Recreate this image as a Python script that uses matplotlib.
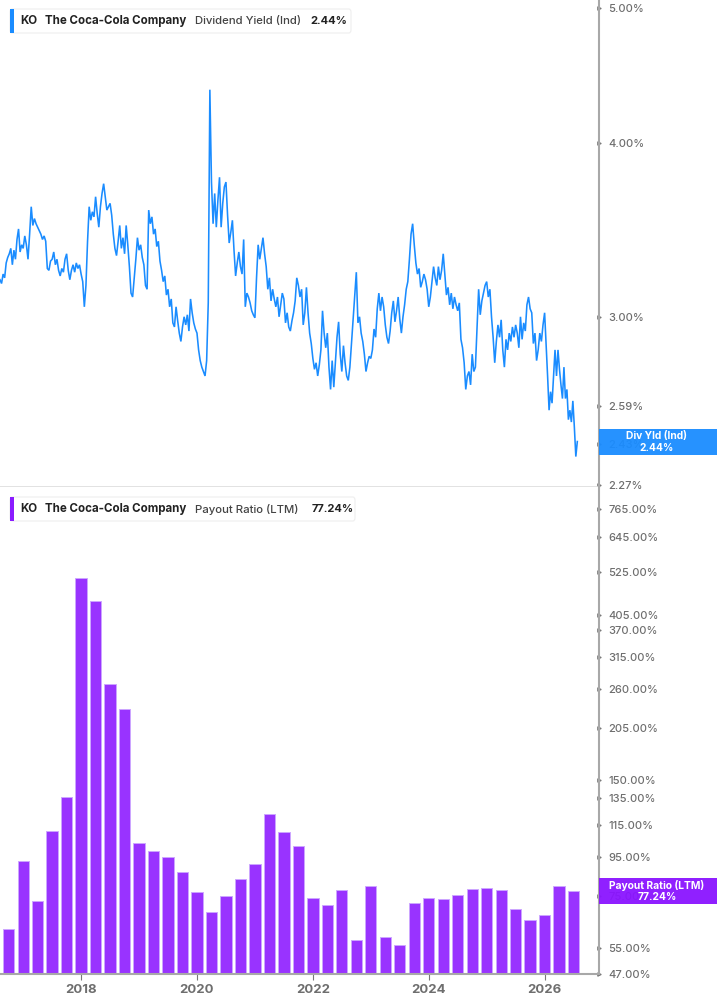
import numpy as np
import matplotlib
matplotlib.use("Agg")
import matplotlib.pyplot as plt
from matplotlib.patches import FancyBboxPatch, Rectangle
from matplotlib.ticker import NullLocator

plt.rcParams['font.family'] = ['Inter', 'DejaVu Sans']

yield_2016 = [3.19, 3.17, 3.22, 3.20, 3.28, 3.31, 3.33, 3.36, 3.27, 3.35, 3.30, 3.41, 3.47, 3.34, 3.38]
yield_2017 = [3.36, 3.43, 3.38, 3.30, 3.44, 3.60, 3.49, 3.53, 3.50, 3.48, 3.46, 3.44, 3.41, 3.43, 3.40, 3.25, 3.24, 3.29,
              3.30, 3.34, 3.27, 3.30, 3.24, 3.21, 3.25, 3.23, 3.30, 3.33, 3.24, 3.19, 3.24, 3.27, 3.23, 3.28, 3.25, 3.27]
yield_2018 = [3.22, 3.18, 3.05, 3.16, 3.40, 3.60, 3.52, 3.57, 3.54, 3.66, 3.56, 3.48, 3.60, 3.68, 3.74, 3.66, 3.58, 3.60,
              3.62, 3.55, 3.44, 3.36, 3.32, 3.40, 3.49, 3.36, 3.42, 3.33, 3.49, 3.38, 3.26, 3.12, 3.10, 3.20, 3.30, 3.42]
yield_2019 = [3.35, 3.38, 3.31, 3.27, 3.16, 3.14, 3.58, 3.50, 3.54, 3.44, 3.47, 3.37, 3.40, 3.29, 3.24, 3.18, 3.21, 3.11,
              3.14, 3.05, 3.09, 2.97, 2.95, 3.05, 2.98, 2.92, 2.88, 2.95, 3.00, 2.96, 3.01, 2.93, 3.09, 3.02, 2.97, 2.94]
yield_2020 = [2.92, 2.84, 2.79, 2.76, 2.74, 2.72, 2.79, 3.07, 4.37, 3.75, 3.50, 3.68, 3.48, 3.64, 3.78, 3.48, 3.62, 3.72,
              3.75, 3.55, 3.39, 3.45, 3.52, 3.35, 3.21, 3.28, 3.34, 3.26, 3.22, 3.41, 3.05, 3.12, 3.10, 3.07, 3.03, 3.01]
yield_2021 = [2.995, 3.20, 3.38, 3.30, 3.36, 3.42, 3.33, 3.26, 3.14, 3.20, 3.08, 3.14, 3.09, 3.05, 3.10, 3.00, 3.06, 3.12,
              3.09, 2.97, 3.02, 2.95, 2.93, 2.98, 3.02, 3.08, 3.20, 3.16, 3.10, 3.14, 2.96, 3.02, 3.15, 3.02, 2.92, 2.87]
yield_2022 = [2.80, 2.75, 2.78, 2.72, 2.77, 2.84, 3.03, 2.92, 2.85, 2.92, 2.76, 2.66, 2.79, 2.67, 2.78, 2.90, 2.975, 2.82,
              2.74, 2.86, 2.78, 2.72, 2.70, 2.76, 2.87, 2.98, 3.10, 3.23, 2.97, 3.00, 2.92, 2.88, 2.82, 2.74, 2.78, 2.81]
yield_2023 = [2.80, 2.84, 2.94, 2.90, 3.04, 3.12, 3.03, 3.10, 3.05, 2.96, 2.90, 2.87, 2.93, 3.02, 3.08, 2.975, 3.03, 3.10,
              2.99, 2.92, 3.00, 3.06, 3.14, 3.18, 3.30, 3.44, 3.50, 3.38, 3.28, 3.22, 3.25, 3.15, 3.18, 3.22, 3.19, 3.14]
yield_2024 = [3.05, 3.10, 3.18, 3.26, 3.20, 3.16, 3.26, 3.19, 3.24, 3.33, 3.22, 3.11, 3.15, 3.06, 3.12, 3.04, 3.10, 3.06,
              3.03, 3.07, 2.89, 2.85, 2.78, 2.66, 2.72, 2.74, 2.68, 2.82, 2.74, 2.76, 2.95, 3.14, 3.01, 3.08, 3.12, 3.16]
yield_2025 = [3.18, 3.10, 3.14, 3.00, 2.90, 2.78, 2.88, 2.96, 2.90, 2.985, 2.84, 2.76, 2.89, 2.84, 2.92, 2.88, 2.95, 2.90,
              2.96, 2.92, 2.85, 3.00, 2.89, 2.97, 2.93, 3.06, 3.10, 3.04, 3.02, 2.87, 2.92, 2.79, 2.84, 2.92, 2.88, 2.96]
yield_2026 = [3.02, 2.87, 2.72, 2.57, 2.65, 2.60, 2.72, 2.84, 2.72, 2.84, 2.75, 2.68, 2.62, 2.76, 2.62, 2.66, 2.53, 2.57,
              2.52, 2.61, 2.50, 2.38, 2.44]

# payout ratio, one bar per quarter
payout_start = 2016.75
payout = [61.6, 92.6, 72.8, 110.8, 135.9, 505.8, 440.4, 267.7, 230.5, 103.1,
          98.3, 94.8, 86.7, 76.9, 68.2, 75.0, 83.1, 90.9, 122.7, 110.2,
          101.3, 74.2, 71.1, 77.8, 57.6, 79.7, 58.7, 55.9, 72.0, 74.2,
          73.7, 75.5, 78.3, 78.7, 77.8, 69.4, 65.0, 67.0, 79.9, 77.24]

yield_ticks = [5.00, 4.00, 3.00, 2.59, 2.43, 2.27]
payout_ticks = [765, 645, 525, 405, 370, 315, 260, 205, 150, 135, 115, 95, 75, 55, 47]
year_ticks = [2018, 2020, 2022, 2024, 2026]

BLUE = '#1a8cff'
PURPLE = '#9933ff'
AXIS = '#a8a8a8'
LABEL = '#6e6e6e'
W, H = 717, 1005


def fx(px):
    return px / W


def fy(py):
    return 1 - py / H


def style_axis(ax, ticks):
    ax.set_yscale('log')
    ax.yaxis.tick_right()
    ax.set_yticks(ticks)
    ax.set_yticklabels([f'{t:.2f}%' for t in ticks], color=LABEL, fontsize=8.0, fontweight='medium')
    ax.yaxis.set_minor_locator(NullLocator())
    ax.tick_params(axis='y', length=3, pad=4, color='#777777')
    for t in ax.yaxis.get_major_ticks():
        t.tick2line.set_marker('>')
        t.tick2line.set_markersize(2.5)
    for s in ['top', 'left']:
        ax.spines[s].set_visible(False)
    ax.spines['right'].set_color(AXIS)
    ax.spines['right'].set_linewidth(1.5)


fig = plt.figure(figsize=(W / 100, H / 100), dpi=100)

ax1 = fig.add_axes([0, fy(487), fx(598.5), 487 / H])
ax2 = fig.add_axes([0, fy(974), fx(598.5), 487 / H])

dates, vals = [], []
for first, last, part in [(2016.60, 2017, yield_2016), (2017, 2018, yield_2017), (2018, 2019, yield_2018),
                          (2019, 2020, yield_2019), (2020, 2021, yield_2020), (2021, 2022, yield_2021),
                          (2022, 2023, yield_2022), (2023, 2024, yield_2023), (2024, 2025, yield_2024),
                          (2025, 2026, yield_2025), (2026, 2026.59, yield_2026)]:
    dates.extend(np.linspace(first, last, len(part), endpoint=False))
    vals.extend(part)

ax1.plot(dates, vals, color=BLUE, linewidth=1.15, solid_joinstyle='miter')
style_axis(ax1, yield_ticks)
ax1.set_ylim(2.263, 5.07)
ax1.set_xlim(2016.60, 2026.93)
ax1.set_xticks([])
ax1.spines['bottom'].set_color('#dddddd')
ax1.spines['bottom'].set_linewidth(1.2)

bar_x = payout_start + 0.25 * np.arange(len(payout))
ax2.bar(bar_x, np.array(payout) - 47, bottom=47, width=0.195, color=PURPLE,
        edgecolor='#cda6ff', linewidth=0.7)
style_axis(ax2, payout_ticks)
ax2.set_ylim(47, 872)
ax2.set_xlim(2016.60, 2026.93)
ax2.set_xticks(year_ticks)
ax2.set_xticklabels([str(y) for y in year_ticks], color=LABEL, fontsize=9.5, fontweight='bold')
ax2.tick_params(axis='x', length=4, pad=3, color='#777777')
ax2.spines['bottom'].set_color(AXIS)
ax2.spines['bottom'].set_linewidth(1.5)


def legend(top, bottom, right, color, metric, value, value_x):
    box = FancyBboxPatch((fx(10), fy(bottom)), fx(right - 10), (bottom - top) / H,
                         boxstyle='round,pad=0,rounding_size=0.003', transform=fig.transFigure,
                         facecolor='white', edgecolor='#eeeeee', linewidth=0.8, zorder=3)
    fig.add_artist(box)
    fig.add_artist(Rectangle((fx(10), fy(bottom)), fx(4), (bottom - top) / H,
                             transform=fig.transFigure, facecolor=color, zorder=4))
    mid = fy((top + bottom) / 2)
    fig.text(fx(20), mid, 'KO', fontsize=8.3, fontweight='bold', color='#222222', va='center', zorder=5)
    fig.text(fx(45), mid, 'The Coca-Cola Company', fontsize=8.3, fontweight='bold', color='#222222',
             va='center', zorder=5)
    fig.text(fx(195), mid, metric, fontsize=8.2, fontweight='medium', color='#444444', va='center', zorder=5)
    fig.text(fx(value_x), mid, value, fontsize=8.0, fontweight='bold', color='#222222', va='center', zorder=5)


def tag(top, bottom, color, name, value):
    fig.add_artist(Rectangle((fx(599), fy(bottom)), fx(118), (bottom - top) / H,
                             transform=fig.transFigure, facecolor=color, alpha=0.95, zorder=4))
    fig.text(fx(657), fy(top + 7), name, fontsize=7.4, fontweight='bold', color='white',
             ha='center', va='center', zorder=5)
    fig.text(fx(657), fy(top + 19), value, fontsize=7.4, fontweight='bold', color='white',
             ha='center', va='center', zorder=5)


legend(9, 33, 351, BLUE, 'Dividend Yield (Ind)', '2.44%', 310)
legend(497, 521, 355, '#8a1cff', 'Payout Ratio (LTM)', '77.24%', 312)
tag(429, 455, '#1a8cff', 'Div Yld (Ind)', '2.44%')
tag(878, 904, '#8a14ff', 'Payout Ratio (LTM)', '77.24%')

fig.savefig('out.png', dpi=100)
